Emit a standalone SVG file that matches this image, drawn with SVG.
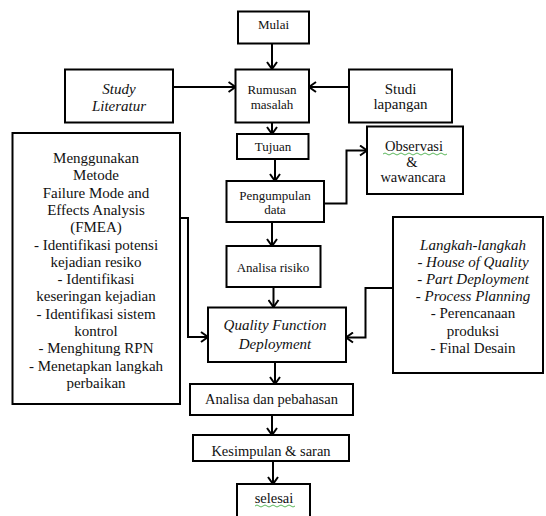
<svg xmlns="http://www.w3.org/2000/svg" width="546" height="516" viewBox="0 0 546 516">
<defs>
<style>
.box{fill:#fff;stroke:#000;stroke-width:2}
.t{font-family:'Liberation Serif','Times New Roman','DejaVu Serif',serif;fill:#111;text-anchor:middle}
.s13{font-size:13px}
.s14{font-size:14.5px}
.s15{font-size:15px}
.it{font-style:italic}
.c{fill:none;stroke:#000;stroke-width:2}
.sq{fill:none;stroke:#5cb85c;stroke-width:1}
</style>
<marker id="arr" markerWidth="10" markerHeight="12" refX="8" refY="6" orient="auto" markerUnits="userSpaceOnUse">
<path d="M1,1 L8,6 L1,11" fill="none" stroke="#000" stroke-width="2"/>
</marker>
</defs>
<rect width="546" height="516" fill="#fff"/>

<g id="connectors">
<line class="c" x1="272" y1="43.5" x2="272" y2="69" marker-end="url(#arr)"/>
<line class="c" x1="173" y1="87" x2="235.5" y2="87" marker-end="url(#arr)"/>
<line class="c" x1="349" y1="87" x2="309" y2="87" marker-end="url(#arr)"/>
<line class="c" x1="272" y1="122.5" x2="272" y2="134" marker-end="url(#arr)"/>
<line class="c" x1="275" y1="159" x2="275" y2="181" marker-end="url(#arr)"/>
<line class="c" x1="272" y1="222" x2="272" y2="246" marker-end="url(#arr)"/>
<line class="c" x1="273.5" y1="287" x2="273.5" y2="307" marker-end="url(#arr)"/>
<line class="c" x1="275" y1="362" x2="275" y2="384" marker-end="url(#arr)"/>
<line class="c" x1="272" y1="415" x2="272" y2="435" marker-end="url(#arr)"/>
<line class="c" x1="273" y1="461" x2="273" y2="484" marker-end="url(#arr)"/>
<polyline class="c" points="324,203.5 346.5,203.5 346.5,150.5 367,150.5" marker-end="url(#arr)"/>
<polyline class="c" points="180,218 188,218 188,337 208,337" marker-end="url(#arr)"/>
<polyline class="c" points="393,288 365.5,288 365.5,337.5 346,337.5" marker-end="url(#arr)"/>
</g>

<g id="mulai">
<rect class="box" x="238" y="11.5" width="71" height="32"/>
<text class="t s13" x="273.5" y="29" font-family="Liberation Serif">Mulai</text>
</g>

<g id="study-literatur">
<rect class="box" x="65" y="69.5" width="108" height="53"/>
<text class="t s15 it" x="119" y="93.5">Study</text>
<text class="t s15 it" x="119" y="111">Literatur</text>
</g>

<g id="rumusan">
<rect class="box" x="235.5" y="69.5" width="73.5" height="53"/>
<text class="t s13" x="272" y="94">Rumusan</text>
<text class="t s13" x="272" y="109">masalah</text>
</g>

<g id="studi-lapangan">
<rect class="box" x="349" y="69.5" width="103" height="53"/>
<text class="t s15" x="400.5" y="93.5">Studi</text>
<text class="t s15" x="400.5" y="109">lapangan</text>
</g>

<g id="tujuan">
<rect class="box" x="237" y="134" width="71.5" height="25"/>
<text class="t s13" x="273" y="150.5">Tujuan</text>
</g>

<g id="observasi">
<rect class="box" x="367" y="126.5" width="96" height="67.5"/>
<text class="t s14" x="414" y="150.5">Observasi</text>
<path class="sq" d="M383,154 q2,-2 4,0 t4,0 t4,0 t4,0 t4,0 t4,0 t4,0 t4,0 t4,0 t4,0 t4,0 t4,0 t4,0 t4,0 t4,0 t4,0"/>
<text class="t s14" x="412" y="167">&amp;</text>
<text class="t s14" x="413" y="182">wawancara</text>
</g>

<g id="pengumpulan">
<rect class="box" x="226.5" y="181" width="97.5" height="41"/>
<text class="t s13" x="275" y="200">Pengumpulan</text>
<text class="t s13" x="275" y="214">data</text>
</g>

<g id="fmea">
<rect class="box" x="12.5" y="133" width="167.5" height="271"/>
<text class="t s15" x="96" y="163">Menggunakan</text>
<text class="t s15" x="96" y="180.3">Metode</text>
<text class="t s15" x="96" y="197.6">Failure Mode and</text>
<text class="t s15" x="96" y="214.9">Effects Analysis</text>
<text class="t s15" x="96" y="232.2">(FMEA)</text>
<text class="t s15" x="96" y="249.5">- Identifikasi potensi</text>
<text class="t s15" x="96" y="266.8">kejadian resiko</text>
<text class="t s15" x="96" y="284.1">- Identifikasi</text>
<text class="t s15" x="96" y="301.4">keseringan kejadian</text>
<text class="t s15" x="96" y="318.7">- Identifikasi sistem</text>
<text class="t s15" x="96" y="336">kontrol</text>
<text class="t s15" x="96" y="353.3">- Menghitung RPN</text>
<text class="t s15" x="96" y="370.6">- Menetapkan langkah</text>
<text class="t s15" x="96" y="387.9">perbaikan</text>
</g>

<g id="analisa-risiko">
<rect class="box" x="226.5" y="246" width="94" height="41"/>
<text class="t s13" x="273" y="271.5">Analisa risiko</text>
</g>

<g id="langkah">
<rect class="box" x="393" y="217" width="150" height="156"/>
<text class="t s15 it" x="473" y="249.5">Langkah-langkah</text>
<text class="t s15 it" x="473" y="266.7">- House of Quality</text>
<text class="t s15 it" x="473" y="283.9">- Part Deployment</text>
<text class="t s15 it" x="473" y="301.1">- Process Planning</text>
<text class="t s15" x="473" y="318.3">- Perencanaan</text>
<text class="t s15" x="473" y="335.5">produksi</text>
<text class="t s15" x="473" y="352.7">- Final Desain</text>
</g>

<g id="qfd">
<rect class="box" x="208" y="307.5" width="138" height="54.5"/>
<text class="t s15 it" x="275" y="330">Quality Function</text>
<text class="t s15 it" x="275" y="349">Deployment</text>
</g>

<g id="analisa-pembahasan">
<rect class="box" x="190" y="384" width="163" height="31"/>
<text class="t s14" x="271.5" y="404">Analisa dan pebahasan</text>
</g>

<g id="kesimpulan">
<rect class="box" x="193" y="435" width="156" height="26"/>
<text class="t s14" x="271" y="455.5">Kesimpulan &amp; saran</text>
</g>

<g id="selesai">
<rect class="box" x="237" y="484" width="73" height="40"/>
<text class="t s14" x="274" y="503">selesai</text>
<path class="sq" d="M255,506 q2,-2 4,0 t4,0 t4,0 t4,0 t4,0 t4,0 t4,0 t4,0 t4,0 t4,0"/>
</g>
</svg>
